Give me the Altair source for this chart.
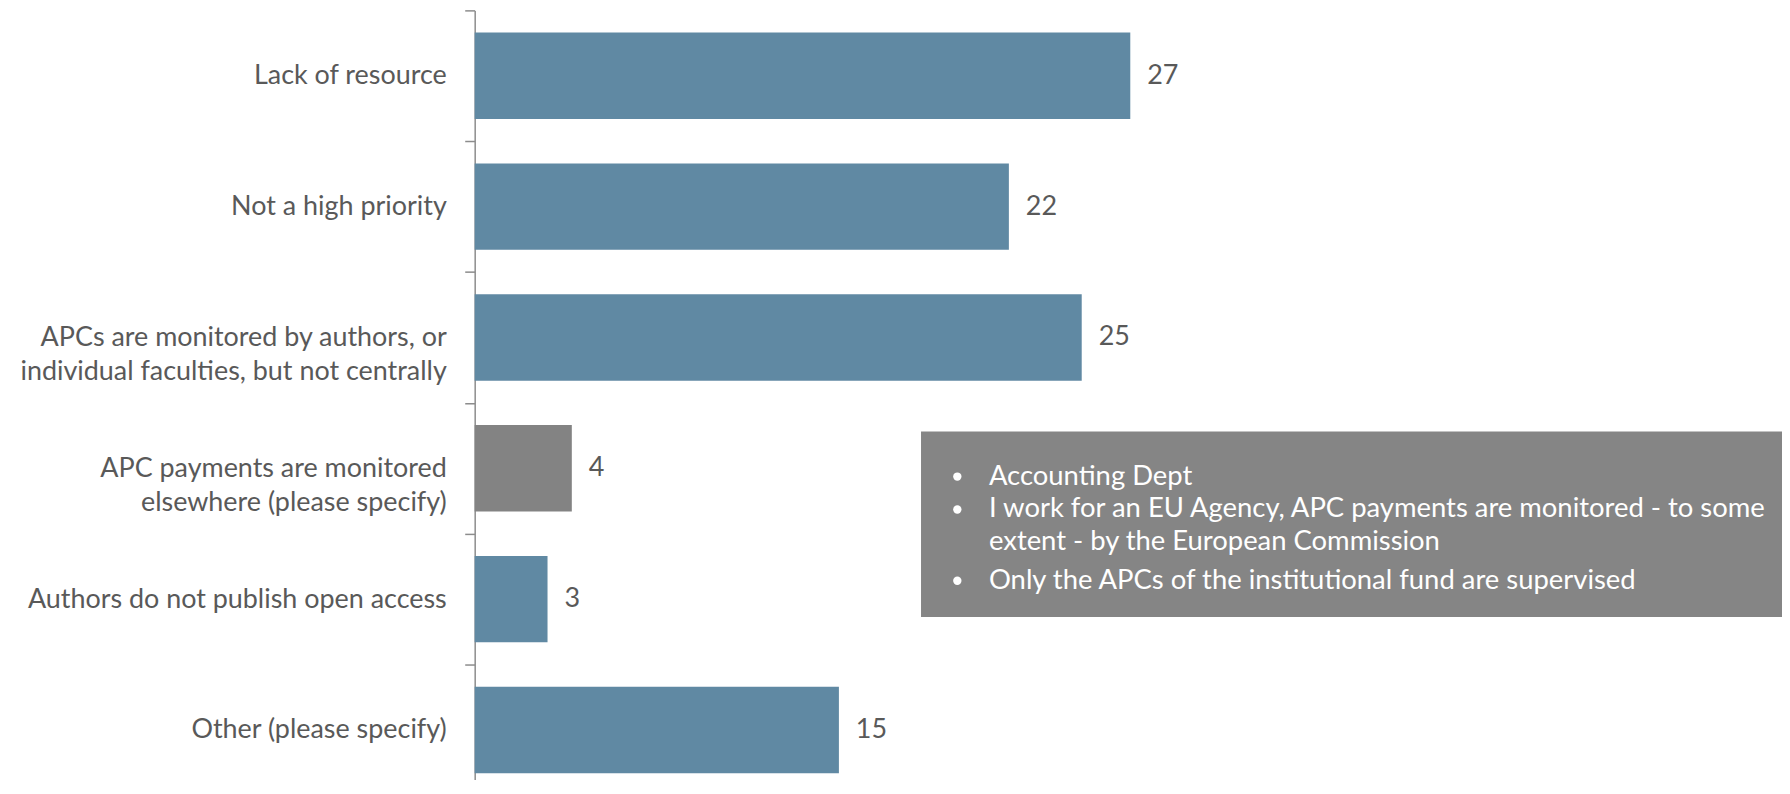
import altair as alt
import pandas as pd

# ---- data ----
categories = [
    "Lack of resource",
    "Not a high priority",
    "APCs are monitored by authors, or\u00a0\u00a0|individual faculties, but not centrally",
    "APC payments are monitored|elsewhere (please specify)\u00a0\u00a0\u00a0",
    "Authors do not publish open access",
    "Other (please specify)",
]
values = [27, 22, 25, 4, 3, 15]
highlighted = [False, False, False, True, False, False]

notes = [
    "Accounting Dept",
    "I work for an EU Agency, APC payments are monitored - to some",
    "extent - by the European Commission",
    "Only the APCs of the institutional fund are supervised",
]
note_bullet = [True, True, False, True]

# ---- style ----
FONT = "Lato"
FS = 27
TEXT = "#595959"
BLUE = "#6089A3"
GREY = "#838383"
BOX = "#858585"
W, H = 1311, 770.7
BAND_RANGE = 787.2
HALF_STEP = BAND_RANGE / 6 / 2
X_MAX = 53.84

df = pd.DataFrame({"cat": categories, "val": values, "hl": highlighted})

y = alt.Y(
    "cat:N",
    sort=categories,
    scale=alt.Scale(domain=categories, range=[0, BAND_RANGE], paddingInner=0.34, paddingOuter=0.17),
    axis=alt.Axis(
        title=None,
        domainColor="#8c8c8c",
        domainWidth=1.5,
        tickColor="#8c8c8c",
        tickWidth=1.5,
        tickSize=10,
        tickOffset=-HALF_STEP,
        labelOffset=HALF_STEP,
        labelFont=FONT,
        labelFontSize=FS,
        labelColor=TEXT,
        labelPadding=18.5,
        labelLineHeight=34,
        labelLimit=0,
        labelExpr="split(datum.label, '|')",
        grid=False,
    ),
)
x = alt.X("val:Q", scale=alt.Scale(domain=[0, X_MAX], nice=False), axis=None)

base = alt.Chart(df)
bars = base.mark_bar().encode(
    x=x,
    y=y,
    color=alt.Color("hl:N", scale=alt.Scale(domain=[False, True], range=[BLUE, GREY]), legend=None),
)
labels = base.mark_text(align="left", baseline="middle", dx=17, font=FONT, fontSize=FS, color=TEXT).encode(
    x=x, y=y, text="val:Q"
)

layers = [bars, labels]

box = alt.Chart(pd.DataFrame({"k": [0]})).mark_rect(color=BOX).encode(
    x=alt.value(447.6), x2=alt.value(1311), y=alt.value(422.2), y2=alt.value(608.3)
)
layers.append(box)

line_y = [467.5, 500.5, 533.5, 572]
for note, bul, ly in zip(notes, note_bullet, line_y):
    layers.append(
        alt.Chart(pd.DataFrame({"t": [note]}))
        .mark_text(align="left", baseline="middle", font=FONT, fontSize=27.5, color="white")
        .encode(x=alt.value(515.7), y=alt.value(ly), text="t:N")
    )
    if bul:
        layers.append(
            alt.Chart(pd.DataFrame({"t": [note]}))
            .mark_point(shape="circle", filled=True, size=70, color="white", opacity=1)
            .encode(x=alt.value(484), y=alt.value(ly))
        )

chart = (
    alt.layer(*layers)
    .properties(
        width=W,
        height=H,
        autosize=alt.AutoSizeParams(type="none"),
        padding={"left": 468, "top": 1.3, "right": 0, "bottom": 0},
    )
    .configure_view(stroke=None)
)

chart.save("out.html", embed_options={"renderer": "svg", "actions": False})
